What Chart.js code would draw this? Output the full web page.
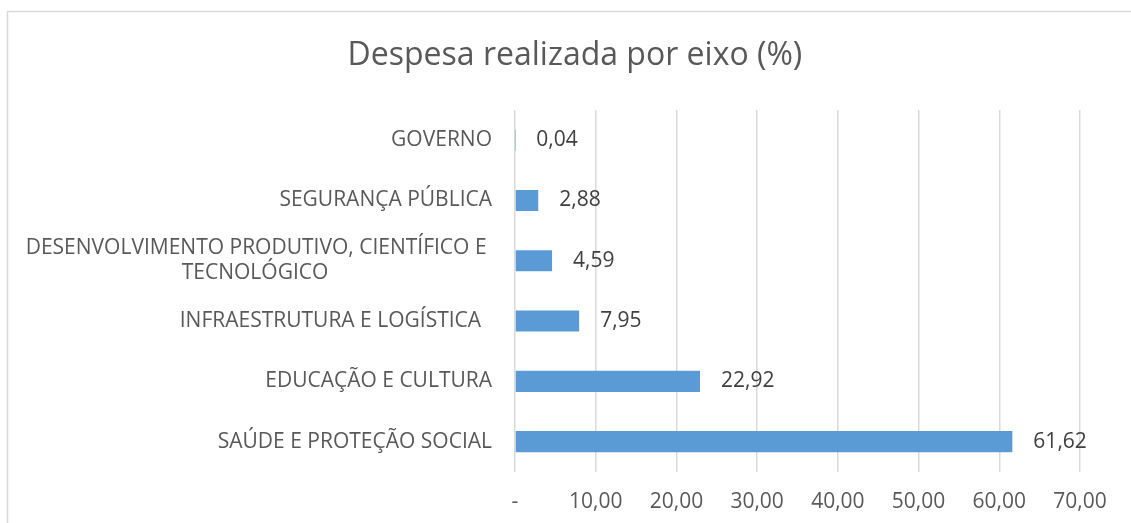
<!DOCTYPE html>
<html>
<head>
<meta charset="utf-8">
<script src="https://cdn.jsdelivr.net/npm/chart.js@4.4.0/dist/chart.umd.min.js"></script>
<style>
    html, body { margin: 0; padding: 0; background: #fff; overflow: hidden; }
    canvas { display: block; }
</style>
</head>
<body>
<canvas id="grafico" width="1131" height="523"></canvas>
<script>
const categorias = [
    'GOVERNO',
    'SEGURANÇA PÚBLICA',
    ['DESENVOLVIMENTO PRODUTIVO, CIENTÍFICO E ', 'TECNOLÓGICO                              '],
    'INFRAESTRUTURA E LOGÍSTICA  ',
    'EDUCAÇÃO E CULTURA',
    'SAÚDE E PROTEÇÃO SOCIAL'
];
const valores = [0.04, 2.88, 4.59, 7.95, 22.92, 61.62];
const eixoMin = 0;
const eixoMax = 70;
const passo = 10;

const fonte = '"Open Sans", "Liberation Sans", sans-serif';

function formatar(v) {
    if (v === 0) return '-';
    return v.toFixed(2).replace('.', ',');
}

// rótulos de valor ao lado das barras
const rotulos = {
    id: 'rotulos',
    afterDatasetsDraw(chart) {
        const ctx = chart.ctx;
        const meta = chart.getDatasetMeta(0);
        ctx.save();
        ctx.font = '21px ' + fonte;
        ctx.fillStyle = '#404040';
        ctx.textAlign = 'left';
        ctx.textBaseline = 'middle';
        meta.data.forEach((bar, i) => {
            ctx.fillText(formatar(valores[i]), bar.x + 21, bar.y);
        });
        ctx.restore();
    }
};

// moldura do gráfico
const moldura = {
    id: 'moldura',
    beforeDraw(chart) {
        const ctx = chart.ctx;
        ctx.save();
        ctx.strokeStyle = '#d9d9d9';
        ctx.lineWidth = 1.5;
        ctx.strokeRect(7.5, 11.5, 1300, 700);
        ctx.restore();
    }
};

const ctx = document.getElementById('grafico').getContext('2d');
const chart = new Chart(ctx, {
    type: 'bar',
    data: {
        labels: categorias,
        datasets: [{
            data: valores,
            backgroundColor: '#5b9bd5',
            borderWidth: 0,
            barPercentage: 0.7,
            categoryPercentage: 0.5
        }]
    },
    options: {
        indexAxis: 'y',
        responsive: false,
        animation: false,
        layout: { padding: { left: 20, right: 51, top: 37, bottom: 8 } },
        plugins: {
            legend: { display: false },
            tooltip: { enabled: false },
            title: {
                display: true,
                text: '      Despesa realizada por eixo (%)',
                color: '#595959',
                font: { family: fonte, size: 32, weight: 'normal' },
                padding: { top: 0, bottom: 34.6 }
            }
        },
        scales: {
            x: {
                min: eixoMin,
                max: eixoMax,
                afterFit(scale) { scale.height = 43.2; },
                ticks: {
                    stepSize: passo,
                    color: '#595959',
                    font: { family: fonte, size: 21 },
                    padding: 18,
                    maxRotation: 0,
                    callback: v => formatar(v)
                },
                grid: { color: '#d9d9d9', lineWidth: 1.5, drawTicks: false },
                border: { display: false }
            },
            y: {
                afterFit(scale) {
                    scale.width = 495;
                    scale.paddingTop = 0;
                    scale.paddingBottom = 0;
                },
                ticks: {
                    color: '#595959',
                    font: { family: fonte, size: 21 },
                    padding: 15,
                    autoSkip: false
                },
                grid: { display: false },
                border: { display: false }
            }
        }
    },
    plugins: [rotulos, moldura]
});
</script>
</body>
</html>
